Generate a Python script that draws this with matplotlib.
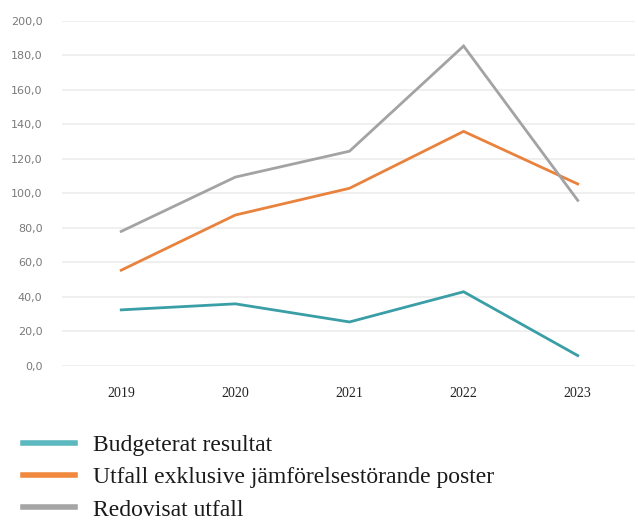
import matplotlib
matplotlib.use("Agg")
import matplotlib.pyplot as plt

years = ["2019", "2020", "2021", "2022", "2023"]
budget = [32.5, 36.0, 25.5, 43.0, 6.0]
utfall_excl = [55.5, 87.5, 103.0, 136.0, 105.5]
redovisat = [78.0, 109.5, 124.5, 185.5, 96.0]

labels = ["Budgeterat resultat",
          "Utfall exklusive jämförelsestörande poster",
          "Redovisat utfall"]
colors = ["#3A9EA6", "#E8823D", "#A3A3A3"]
yticks = [0, 20, 40, 60, 80, 100, 120, 140, 160, 180, 200]

fig = plt.figure(figsize=(6.38, 5.25), dpi=100)
ax = fig.add_axes([0.097, 0.303, 0.898, 0.657])

x = range(len(years))
for series, col, lab in zip([budget, utfall_excl, redovisat], colors, labels):
    ax.plot(x, series, color=col, linewidth=2.0, label=lab, solid_joinstyle="miter")

ax.set_xlim(-0.52, 4.5)
ax.set_ylim(0, 200)
ax.set_yticks(yticks)
ax.set_yticklabels([f"{v:.1f}".replace(".", ",") for v in yticks],
                   fontsize=8, color="#7a7a7a", family="DejaVu Sans")
ax.set_xticks(list(x))
ax.set_xticklabels(years, fontsize=10, family="Liberation Serif", color="#222222")
ax.tick_params(length=0)
ax.tick_params(axis="y", pad=14)
ax.tick_params(axis="x", pad=15)
ax.grid(axis="y", color="#ececec", linewidth=1.2)
ax.set_axisbelow(True)
for s in ax.spines.values():
    s.set_visible(False)

for l in ax.get_lines():
    l.set_clip_on(False)

leg = fig.legend(loc="upper left", bbox_to_anchor=(0.036, 0.172), frameon=False,
                 prop={"family": "Liberation Serif", "size": 17},
                 handlelength=2.2, handletextpad=0.75, labelspacing=0.45,
                 borderaxespad=0, borderpad=0)
leg_colors = ["#5BB8BE", "#F0883E", "#A5A5A5"]
for h, c in zip(leg.get_lines(), leg_colors):
    h.set_linewidth(4)
    h.set_color(c)
for t in leg.get_texts():
    t.set_color("#1a1a1a")

fig.savefig("out.png", dpi=100)
